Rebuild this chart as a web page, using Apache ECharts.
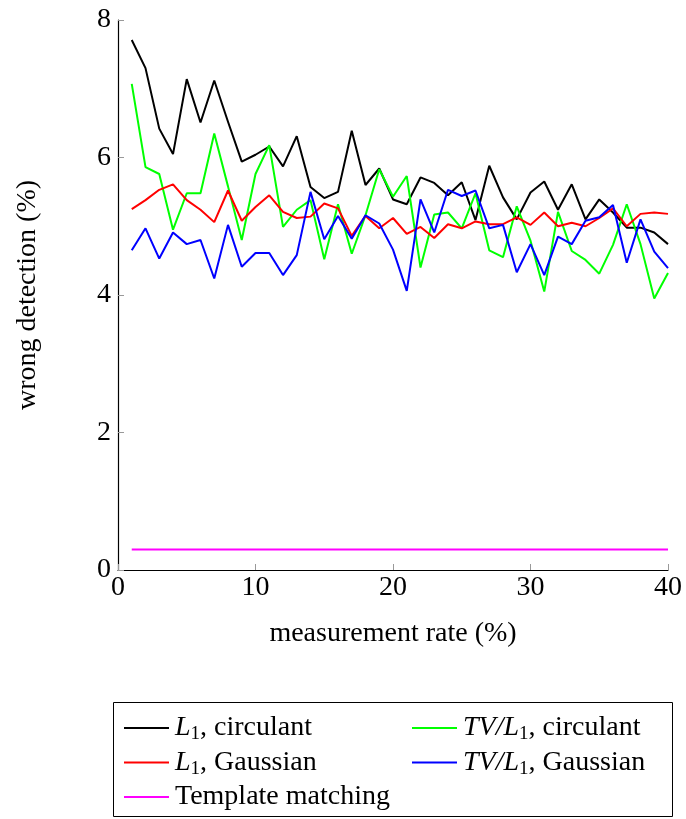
<!DOCTYPE html>
<html>
<head>
<meta charset="utf-8">
<script src="https://cdn.jsdelivr.net/npm/echarts@6/dist/echarts.min.js"></script>
<style>
html,body{margin:0;padding:0;background:#fff;}
#chart{width:686px;height:819px;}
</style>
</head>
<body>
<div id="chart"></div>
<script>
const xValues = [1,2,3,4,5,6,7,8,9,10,11,12,13,14,15,16,17,18,19,20,21,22,23,24,25,26,27,28,29,30,31,32,33,34,35,36,37,38,39,40];
const l1Circulant = [7.71,7.30,6.42,6.05,7.14,6.51,7.12,6.52,5.94,6.04,6.16,5.87,6.31,5.57,5.41,5.50,6.39,5.60,5.84,5.39,5.32,5.71,5.63,5.45,5.64,5.09,5.88,5.42,5.10,5.49,5.65,5.24,5.61,5.10,5.39,5.20,4.98,4.98,4.91,4.74];
const tvCirculant = [7.07,5.86,5.76,4.95,5.48,5.48,6.35,5.58,4.80,5.76,6.18,4.99,5.24,5.38,4.52,5.32,4.60,5.16,5.83,5.43,5.73,4.40,5.17,5.20,4.97,5.48,4.65,4.55,5.29,4.79,4.05,5.21,4.64,4.51,4.31,4.73,5.32,4.74,3.95,4.32];
const l1Gaussian = [5.25,5.38,5.53,5.61,5.38,5.24,5.06,5.52,5.08,5.28,5.45,5.21,5.12,5.14,5.33,5.26,4.86,5.15,4.97,5.12,4.89,4.99,4.83,5.03,4.97,5.07,5.03,5.03,5.13,5.02,5.20,5.00,5.05,5.00,5.12,5.26,5.00,5.18,5.20,5.18];
const tvGaussian = [4.65,4.97,4.53,4.91,4.74,4.80,4.24,5.02,4.41,4.61,4.61,4.29,4.58,5.50,4.81,5.15,4.82,5.16,5.04,4.66,4.06,5.39,4.91,5.53,5.44,5.52,4.97,5.02,4.33,4.74,4.29,4.85,4.74,5.08,5.13,5.31,4.47,5.10,4.63,4.39];
const templateMatching = [0.3,0.3,0.3,0.3,0.3,0.3,0.3,0.3,0.3,0.3,0.3,0.3,0.3,0.3,0.3,0.3,0.3,0.3,0.3,0.3,0.3,0.3,0.3,0.3,0.3,0.3,0.3,0.3,0.3,0.3,0.3,0.3,0.3,0.3,0.3,0.3,0.3,0.3,0.3,0.3];
const seriesNames = ['L1, circulant','TV/L1, circulant','L1, Gaussian','TV/L1, Gaussian','Template matching'];
const seriesColors = ['#000000','#00ff00','#ff0000','#0000ff','#ff00ff'];
const seriesData = [l1Circulant, tvCirculant, l1Gaussian, tvGaussian, templateMatching];
const xTicks = [0,10,20,30,40];
const yTicks = [0,2,4,6,8];

const FONT = 'Liberation Serif';
const FS = 28;
const legendLabels = {
  'L1, circulant': '{it|L}{sub|1}{n|, circulant}',
  'TV/L1, circulant': '{it|TV/L}{sub|1}{n|, circulant}',
  'L1, Gaussian': '{it|L}{sub|1}{n|, Gaussian}',
  'TV/L1, Gaussian': '{it|TV/L}{sub|1}{n|, Gaussian}',
  'Template matching': '{n|Template matching}'
};
const richStyles = {
  it: {fontFamily: FONT, fontStyle: 'italic', fontSize: FS, color: '#000', lineHeight: 32, verticalAlign: 'middle'},
  sub: {fontFamily: FONT, fontSize: 19, color: '#000', lineHeight: 18, verticalAlign: 'bottom'},
  n: {fontFamily: FONT, fontSize: FS, color: '#000', lineHeight: 32, verticalAlign: 'middle'}
};
function legendCfg(data, left) {
  return {
    data: data, orient: 'vertical', left: left, top: 712, height: 105, padding: 0,
    icon: 'rect', itemWidth: 45, itemHeight: 2, itemGap: 2.5,
    formatter: n => legendLabels[n],
    textStyle: {rich: richStyles, fontFamily: FONT, fontSize: FS, lineHeight: 32, padding: [0,0,0,1]},
    selectedMode: false
  };
}

const chart = echarts.init(document.getElementById('chart'), null, {renderer: 'canvas'});
chart.setOption({
  animation: false,
  backgroundColor: '#ffffff',
  grid: {left: 118, right: 18, top: 20, bottom: 249, containLabel: false},
  xAxis: {
    type: 'value', min: xTicks[0], max: xTicks[xTicks.length-1], interval: 10,
    name: 'measurement rate (%)', nameLocation: 'middle', nameGap: 50,
    nameTextStyle: {fontFamily: FONT, fontSize: FS, color: '#000'},
    axisLine: {show: true, onZero: false, lineStyle: {color: '#000', width: 1.2}},
    axisTick: {show: true, inside: true, length: 6, lineStyle: {color: '#999', width: 1}},
    axisLabel: {fontFamily: FONT, fontSize: FS, color: '#000', margin: 4},
    splitLine: {show: false}
  },
  yAxis: {
    type: 'value', min: yTicks[0], max: yTicks[yTicks.length-1], interval: 2,
    name: 'wrong detection (%)', nameLocation: 'middle', nameGap: 76, nameRotate: 90,
    nameTextStyle: {fontFamily: FONT, fontSize: FS, color: '#000'},
    axisLine: {show: true, lineStyle: {color: '#000', width: 1.2}},
    axisTick: {show: true, inside: true, length: 6, lineStyle: {color: '#999', width: 1}},
    axisLabel: {fontFamily: FONT, fontSize: FS, color: '#000', margin: 7},
    splitLine: {show: false}
  },
  legend: [
    legendCfg([seriesNames[0], seriesNames[2], seriesNames[4]], 124),
    legendCfg([seriesNames[1], seriesNames[3]], 412)
  ],
  graphic: [{
    type: 'rect', shape: {x: 113.5, y: 702.5, width: 559, height: 114},
    style: {fill: 'none', stroke: '#000', lineWidth: 1}, silent: true
  }],
  series: seriesNames.map((name, i) => ({
    name: name, type: 'line', symbol: 'none',
    data: xValues.map((x, j) => [x, seriesData[i][j]]),
    lineStyle: {color: seriesColors[i], width: 2},
    itemStyle: {color: seriesColors[i]}
  }))
});
</script>
</body>
</html>
